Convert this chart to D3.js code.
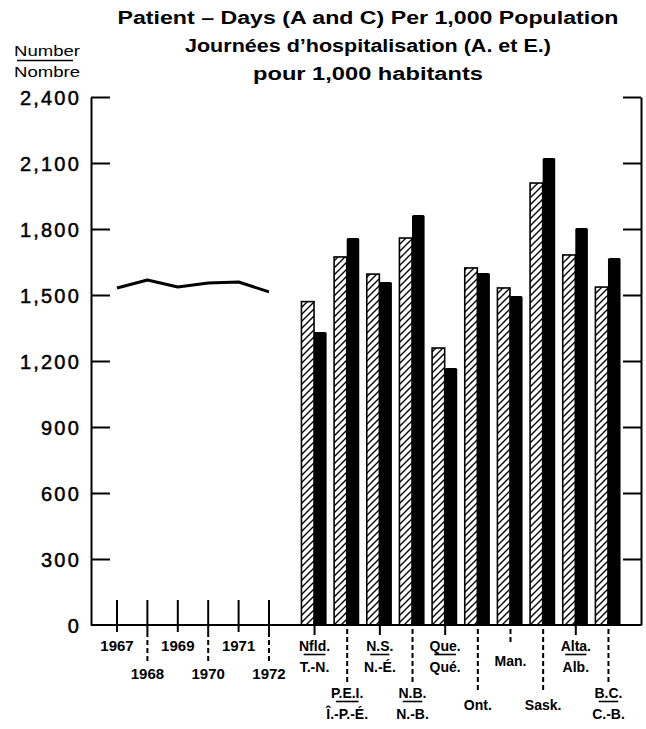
<!DOCTYPE html>
<html><head><meta charset="utf-8">
<script src="https://cdn.jsdelivr.net/npm/d3@7/dist/d3.min.js"></script>
<style>
html,body{margin:0;padding:0;background:#fff;}
svg{display:block;}
text{font-family:"Liberation Sans",Arial,sans-serif;fill:#000;}
</style></head>
<body>
<svg id="c" width="646" height="729"></svg>
<script>
// ---- data ----
const years = [1967, 1968, 1969, 1970, 1971, 1972];
const canadaValues = [1532, 1568, 1536, 1555, 1559, 1514];
const provinces = ["Nfld.", "P.E.I.", "N.S.", "N.B.", "Que.", "Ont.", "Man.", "Sask.", "Alta.", "B.C."];
const provincesFr = ["T.-N.", "Î.-P.-É.", "N.-É.", "N.-B.", "Qué.", "", "", "", "Alb.", "C.-B."];
const hatchedValues = [1470, 1673, 1595, 1759, 1259, 1623, 1532, 2009, 1682, 1536];
const solidValues = [1332, 1759, 1559, 1864, 1168, 1600, 1495, 2123, 1805, 1668];
const yTicks = [0, 300, 600, 900, 1200, 1500, 1800, 2100, 2400];
const titleLines = ["Patient – Days (A and C) Per 1,000 Population",
  "Journées d’hospitalisation (A. et E.)", "pour 1,000 habitants"];
const unitLabels = ["Number", "Nombre"];

// ---- layout ----
const svg = d3.select("#c");
const pLeft = 91, pRight = 641, pTop = 97, pBase = 625;
const y = d3.scaleLinear().domain([0, 2400]).range([pBase, pTop]);
const xYear = d3.scaleLinear().domain([1967, 1972]).range([117, 269]);
const xProv = d3.scaleBand().domain(provinces).range([297.7, 624.3]).paddingInner(0.23).paddingOuter(0.115);
const xSub = d3.scaleBand().domain(["h", "s"]).range([0, xProv.bandwidth()]);

// pattern
const defs = svg.append("defs");
const pat = defs.append("pattern").attr("id", "hatch").attr("patternUnits", "userSpaceOnUse")
  .attr("width", 7).attr("height", 7);
pat.append("path").attr("d", "M-1,8 L8,-1 M-4.5,4.5 L4.5,-4.5 M2.5,11.5 L11.5,2.5")
  .attr("stroke", "#000").attr("stroke-width", 1.4);

// titles
const tl = svg.append("g");
[[24, 18, 501], [52, 18, 366], [80, 18, 230]].forEach((p, i) => {
  tl.append("text").attr("x", 368).attr("y", p[0]).attr("text-anchor", "middle")
    .attr("font-size", p[1]).attr("font-weight", "bold")
    .attr("textLength", p[2]).attr("lengthAdjust", "spacingAndGlyphs").text(titleLines[i]);
});
svg.append("text").attr("x", 47).attr("y", 56).attr("text-anchor", "middle").attr("font-size", 15)
  .attr("textLength", 66).attr("lengthAdjust", "spacingAndGlyphs").text(unitLabels[0]);
svg.append("line").attr("x1", 17).attr("x2", 73).attr("y1", 60.5).attr("y2", 60.5).attr("stroke", "#000").attr("stroke-width", 1.5);
svg.append("text").attr("x", 47).attr("y", 77).attr("text-anchor", "middle").attr("font-size", 15)
  .attr("textLength", 66).attr("lengthAdjust", "spacingAndGlyphs").text(unitLabels[1]);

// axes
const yAxisL = d3.axisLeft(y).tickValues(yTicks).tickSizeInner(-19).tickSizeOuter(0).tickPadding(10)
  .tickFormat(d3.format(","));
const gL = svg.append("g").attr("transform", `translate(${pLeft},0)`).call(yAxisL);
gL.select(".domain").attr("stroke-width", 2);
gL.selectAll(".tick line").attr("stroke-width", 2);
gL.selectAll(".tick").filter(d => d === 0).select("line").remove();
gL.selectAll("text").attr("font-family", "DejaVu Sans, sans-serif").attr("font-size", 20)
  .attr("letter-spacing", 2.2).attr("dy", "0.36em").attr("stroke", "#000").attr("stroke-width", 0.5);

const yAxisR = d3.axisLeft(y).tickValues(yTicks.filter(d => d > 0)).tickSizeInner(18).tickSizeOuter(0).tickFormat("");
const gR = svg.append("g").attr("transform", `translate(${pRight},0)`).call(yAxisR);
gR.select(".domain").attr("stroke-width", 2);
gR.selectAll(".tick line").attr("stroke-width", 2);

// baseline
svg.append("line").attr("x1", pLeft).attr("x2", pRight).attr("y1", pBase).attr("y2", pBase)
  .attr("stroke", "#000").attr("stroke-width", 2);

// bars
const gb = svg.append("g");
provinces.forEach((p, i) => {
  const x0 = xProv(p);
  gb.append("rect").attr("x", x0 + xSub("h")).attr("width", xSub.bandwidth())
    .attr("y", y(hatchedValues[i])).attr("height", pBase - y(hatchedValues[i]))
    .attr("fill", "url(#hatch)").attr("stroke", "#000").attr("stroke-width", 1.6);
  gb.append("rect").attr("x", x0 + xSub("s")).attr("width", xSub.bandwidth())
    .attr("y", y(solidValues[i])).attr("height", pBase - y(solidValues[i]))
    .attr("fill", "#000").attr("rx", 1.5);
});

// line
svg.append("path").datum(years.map((yr, i) => [yr, canadaValues[i]]))
  .attr("d", d3.line().x(d => xYear(d[0])).y(d => y(d[1])))
  .attr("fill", "none").attr("stroke", "#000").attr("stroke-width", 3).attr("stroke-linejoin", "round");

// year ticks & labels
years.forEach((yr, i) => {
  const x = xYear(yr);
  svg.append("line").attr("x1", x).attr("x2", x).attr("y1", pBase - 25).attr("y2", pBase + 7)
    .attr("stroke", "#000").attr("stroke-width", 2);
  if (i % 2 === 1) {
    svg.append("line").attr("x1", x).attr("x2", x).attr("y1", pBase + 7).attr("y2", pBase + 37)
      .attr("stroke", "#000").attr("stroke-width", 2).attr("stroke-dasharray", "5,3");
  }
  svg.append("text").attr("x", x).attr("y", i % 2 === 0 ? 651 : 679).attr("text-anchor", "middle")
    .attr("font-size", 15).attr("font-weight", "bold").text(yr);
});

// province ticks & labels
const row = [0, 2, 0, 2, 0, 3, 1, 3, 0, 2]; // label level
provinces.forEach((p, i) => {
  const x = xProv(p) + xProv.bandwidth() / 2 + 0.5;
  const lvl = row[i];
  const tickEnd = lvl === 0 ? pBase + 10 : lvl === 1 ? pBase + 18 : lvl === 2 ? pBase + 57 : pBase + 65;
  svg.append("line").attr("x1", x).attr("x2", x).attr("y1", pBase - 4).attr("y2", tickEnd)
    .attr("stroke", "#000").attr("stroke-width", 2).attr("stroke-dasharray", lvl === 0 ? null : "5,3");
  const g = svg.append("g");
  if (provincesFr[i]) {
    const y1 = lvl === 0 ? 651 : 698, y2 = lvl === 0 ? 672 : 719;
    const t = g.append("text").attr("x", x).attr("y", y1).attr("text-anchor", "middle")
      .attr("font-size", 14).attr("font-weight", "bold").text(p);
    g.append("text").attr("x", x).attr("y", y2).attr("text-anchor", "middle")
      .attr("font-size", 14).attr("font-weight", "bold").text(provincesFr[i]);
    const w = t.node().getComputedTextLength() * 0.7;
    g.append("line").attr("x1", x - w / 2).attr("x2", x + w / 2).attr("y1", y1 + 3.5).attr("y2", y1 + 3.5)
      .attr("stroke", "#000").attr("stroke-width", 1.6);
  } else {
    g.append("text").attr("x", x).attr("y", lvl === 1 ? 666 : 710).attr("text-anchor", "middle")
      .attr("font-size", 14).attr("font-weight", "bold").text(p);
  }
});
</script>
</body></html>
